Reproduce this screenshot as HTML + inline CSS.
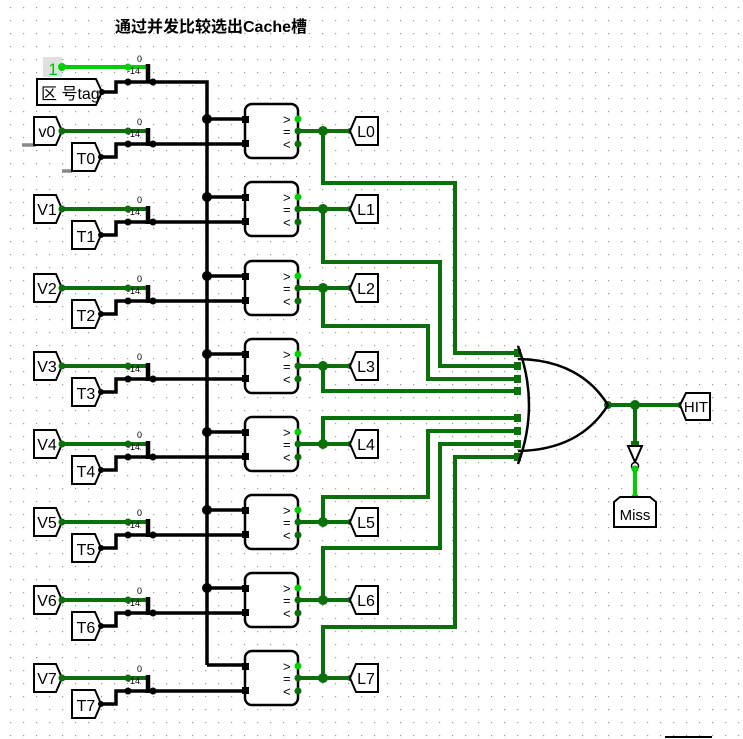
<!DOCTYPE html>
<html><head><meta charset="utf-8"><style>
html,body{margin:0;padding:0;background:#fff;}
svg{display:block;font-family:"Liberation Sans","Noto Sans CJK SC",sans-serif;}
</style></head><body>
<svg width="743" height="739" viewBox="0 0 743 739" xmlns="http://www.w3.org/2000/svg">
<defs>
<pattern id="g" x="10" y="7" width="13" height="13" patternUnits="userSpaceOnUse"><rect x="0" y="0" width="1.2" height="1.2" fill="#9a9a9a"/></pattern>
</defs>
<rect width="743" height="739" fill="url(#g)"/>
<text x="115" y="32" font-size="16" font-weight="bold" fill="#000">通过并发比较选出Cache槽</text>

<!-- top row -->
<rect x="43" y="57" width="19" height="20" fill="#e0e0e0"/>
<text x="53" y="75" font-size="17" fill="#00c000" text-anchor="middle">1</text>
<g stroke="#00d000" stroke-width="4" fill="none"><path d="M62,67 H147"/></g>
<circle cx="62" cy="67" r="4" fill="#00d000"/><circle cx="128" cy="67" r="3.5" fill="#00d000"/>
<path d="M37,79 H96 L102,92 L96,105 H37Z" fill="#fff" stroke="#000" stroke-width="2"/>
<text x="41" y="99" font-size="16">区 号tag</text>
<g stroke="#000" stroke-width="3.5" fill="none">
<path d="M102,92 H116 V82 H207 V665"/>
<path d="M148,64 V82" stroke-width="4.5"/>
</g>
<circle cx="128" cy="82" r="3.5"/><circle cx="153" cy="82" r="3.5"/><circle cx="102" cy="92" r="3"/>
<text x="137" y="62" font-size="9">0</text><text x="127" y="74" font-size="9">-14</text>

<!-- grey stubs -->
<path d="M22,145 H36 M62,171 H72" stroke="#888" stroke-width="3.5"/>

<!-- OR wires -->
<g stroke="#0a700a" stroke-width="4" fill="none">
<path d="M323,131 V183 H455 V353 H518"/>
<path d="M323,209 V262 H440 V366 H518"/>
<path d="M323,288 V326 H428 V379 H518"/>
<path d="M323,366 V391 H518"/>
<path d="M323,444 V418 H518"/>
<path d="M323,522 V497 H428 V431 H518"/>
<path d="M323,600 V548 H440 V444 H518"/>
<path d="M323,678 V627 H455 V457 H518"/>
<path d="M608,405 H680 M635,405 V445"/>
</g>
<g fill="#0a700a">
<rect x="514" y="349" width="7" height="8"/><rect x="514" y="362" width="7" height="8"/><rect x="514" y="375" width="7" height="8"/><rect x="514" y="387" width="7" height="8"/>
<rect x="514" y="414" width="7" height="8"/><rect x="514" y="427" width="7" height="8"/><rect x="514" y="440" width="7" height="8"/><rect x="514" y="453" width="7" height="8"/>
<circle cx="608" cy="405" r="4"/><circle cx="635" cy="405" r="5"/><circle cx="680" cy="405" r="3"/>
<rect x="631" y="441" width="8" height="7"/>
</g>
<path d="M518,346 Q540,405 518,464" stroke="#000" stroke-width="2.5" fill="none"/>
<path d="M518,359 Q580,360 608,405 Q580,450 518,451" stroke="#000" stroke-width="2.5" fill="none"/>
<path d="M628,446 H642 L635,462 Z" fill="#fff" stroke="#000" stroke-width="2"/>
<circle cx="635" cy="466" r="3.5" fill="#fff" stroke="#000" stroke-width="1.5"/>
<path d="M635,468 V497" stroke="#00d000" stroke-width="4"/>
<circle cx="635" cy="469" r="3.5" fill="#00d000"/><circle cx="635" cy="497" r="3.5" fill="#00d000"/>
<path d="M614,502 L620,497 H650 L656,502 V527 H614Z" fill="#fff" stroke="#000" stroke-width="2"/>
<text x="635" y="520" font-size="15" text-anchor="middle">Miss</text>
<path d="M680,405 L686,393 H710 V420 H686Z" fill="#fff" stroke="#000" stroke-width="2"/>
<text x="696" y="412" font-size="15" text-anchor="middle">HIT</text>
<path d="M665,737 H712" stroke="#000" stroke-width="2"/>

<g>
<!-- row 0 -->
<g transform="translate(0,131)">
<path d="M34,-14 H56 L62,0 L56,14 H34Z" fill="#fff" stroke="#000" stroke-width="2"/><text x="47" y="6" font-size="16" text-anchor="middle">v0</text>
<path d="M72,12 H95 L101,26 L95,40 H72Z" fill="#fff" stroke="#000" stroke-width="2"/><text x="86" y="33" font-size="16" text-anchor="middle">T0</text>
<path d="M62,0 H147" stroke="#0a700a" stroke-width="4"/><circle cx="62" cy="0" r="3.5" fill="#0a700a"/><circle cx="128" cy="0" r="3.5" fill="#0a700a"/>
<path d="M101,26 H116 V13 H245 M207,-12 H245" stroke="#000" stroke-width="3.5" fill="none"/><path d="M148,-3 V15" stroke="#000" stroke-width="4.5"/>
<circle cx="101" cy="26" r="3"/><circle cx="128" cy="13" r="3.5"/><circle cx="153" cy="13" r="3.5"/><circle cx="207" cy="-12" r="5"/>
<text x="137" y="-6" font-size="9">0</text><text x="127" y="6" font-size="9">-14</text>
<rect x="245" y="-27" width="53" height="54" rx="7" fill="#fff" stroke="#000" stroke-width="2.5"/>
<rect x="242" y="-15" width="7" height="7"/><rect x="242" y="9" width="7" height="7"/>
<text x="283" y="-7" font-size="13">&gt;</text><text x="283" y="5" font-size="13">=</text><text x="283" y="18" font-size="13">&lt;</text>
<path d="M298,0 H350" stroke="#0a700a" stroke-width="4"/>
<circle cx="298" cy="-12" r="3.5" fill="#00d000"/><circle cx="298" cy="0" r="3.5" fill="#0a700a"/><circle cx="298" cy="13" r="3.5" fill="#0a700a"/><circle cx="323" cy="0" r="5" fill="#0a700a"/><circle cx="350" cy="0" r="3" fill="#0a700a"/>
<path d="M350,0 L356,-14 H378 V14 H356Z" fill="#fff" stroke="#000" stroke-width="2"/><text x="366" y="6" font-size="16" text-anchor="middle">L0</text>
</g>
<!-- row 1 -->
<g transform="translate(0,209)">
<path d="M34,-14 H56 L62,0 L56,14 H34Z" fill="#fff" stroke="#000" stroke-width="2"/><text x="47" y="6" font-size="16" text-anchor="middle">V1</text>
<path d="M72,12 H95 L101,26 L95,40 H72Z" fill="#fff" stroke="#000" stroke-width="2"/><text x="86" y="33" font-size="16" text-anchor="middle">T1</text>
<path d="M62,0 H147" stroke="#0a700a" stroke-width="4"/><circle cx="62" cy="0" r="3.5" fill="#0a700a"/><circle cx="128" cy="0" r="3.5" fill="#0a700a"/>
<path d="M101,26 H116 V13 H245 M207,-12 H245" stroke="#000" stroke-width="3.5" fill="none"/><path d="M148,-3 V15" stroke="#000" stroke-width="4.5"/>
<circle cx="101" cy="26" r="3"/><circle cx="128" cy="13" r="3.5"/><circle cx="153" cy="13" r="3.5"/><circle cx="207" cy="-12" r="5"/>
<text x="137" y="-6" font-size="9">0</text><text x="127" y="6" font-size="9">-14</text>
<rect x="245" y="-27" width="53" height="54" rx="7" fill="#fff" stroke="#000" stroke-width="2.5"/>
<rect x="242" y="-15" width="7" height="7"/><rect x="242" y="9" width="7" height="7"/>
<text x="283" y="-7" font-size="13">&gt;</text><text x="283" y="5" font-size="13">=</text><text x="283" y="18" font-size="13">&lt;</text>
<path d="M298,0 H350" stroke="#0a700a" stroke-width="4"/>
<circle cx="298" cy="-12" r="3.5" fill="#00d000"/><circle cx="298" cy="0" r="3.5" fill="#0a700a"/><circle cx="298" cy="13" r="3.5" fill="#0a700a"/><circle cx="323" cy="0" r="5" fill="#0a700a"/><circle cx="350" cy="0" r="3" fill="#0a700a"/>
<path d="M350,0 L356,-14 H378 V14 H356Z" fill="#fff" stroke="#000" stroke-width="2"/><text x="366" y="6" font-size="16" text-anchor="middle">L1</text>
</g>
<!-- row 2 -->
<g transform="translate(0,288)">
<path d="M34,-14 H56 L62,0 L56,14 H34Z" fill="#fff" stroke="#000" stroke-width="2"/><text x="47" y="6" font-size="16" text-anchor="middle">V2</text>
<path d="M72,12 H95 L101,26 L95,40 H72Z" fill="#fff" stroke="#000" stroke-width="2"/><text x="86" y="33" font-size="16" text-anchor="middle">T2</text>
<path d="M62,0 H147" stroke="#0a700a" stroke-width="4"/><circle cx="62" cy="0" r="3.5" fill="#0a700a"/><circle cx="128" cy="0" r="3.5" fill="#0a700a"/>
<path d="M101,26 H116 V13 H245 M207,-12 H245" stroke="#000" stroke-width="3.5" fill="none"/><path d="M148,-3 V15" stroke="#000" stroke-width="4.5"/>
<circle cx="101" cy="26" r="3"/><circle cx="128" cy="13" r="3.5"/><circle cx="153" cy="13" r="3.5"/><circle cx="207" cy="-12" r="5"/>
<text x="137" y="-6" font-size="9">0</text><text x="127" y="6" font-size="9">-14</text>
<rect x="245" y="-27" width="53" height="54" rx="7" fill="#fff" stroke="#000" stroke-width="2.5"/>
<rect x="242" y="-15" width="7" height="7"/><rect x="242" y="9" width="7" height="7"/>
<text x="283" y="-7" font-size="13">&gt;</text><text x="283" y="5" font-size="13">=</text><text x="283" y="18" font-size="13">&lt;</text>
<path d="M298,0 H350" stroke="#0a700a" stroke-width="4"/>
<circle cx="298" cy="-12" r="3.5" fill="#00d000"/><circle cx="298" cy="0" r="3.5" fill="#0a700a"/><circle cx="298" cy="13" r="3.5" fill="#0a700a"/><circle cx="323" cy="0" r="5" fill="#0a700a"/><circle cx="350" cy="0" r="3" fill="#0a700a"/>
<path d="M350,0 L356,-14 H378 V14 H356Z" fill="#fff" stroke="#000" stroke-width="2"/><text x="366" y="6" font-size="16" text-anchor="middle">L2</text>
</g>
<!-- row 3 -->
<g transform="translate(0,366)">
<path d="M34,-14 H56 L62,0 L56,14 H34Z" fill="#fff" stroke="#000" stroke-width="2"/><text x="47" y="6" font-size="16" text-anchor="middle">V3</text>
<path d="M72,12 H95 L101,26 L95,40 H72Z" fill="#fff" stroke="#000" stroke-width="2"/><text x="86" y="33" font-size="16" text-anchor="middle">T3</text>
<path d="M62,0 H147" stroke="#0a700a" stroke-width="4"/><circle cx="62" cy="0" r="3.5" fill="#0a700a"/><circle cx="128" cy="0" r="3.5" fill="#0a700a"/>
<path d="M101,26 H116 V13 H245 M207,-12 H245" stroke="#000" stroke-width="3.5" fill="none"/><path d="M148,-3 V15" stroke="#000" stroke-width="4.5"/>
<circle cx="101" cy="26" r="3"/><circle cx="128" cy="13" r="3.5"/><circle cx="153" cy="13" r="3.5"/><circle cx="207" cy="-12" r="5"/>
<text x="137" y="-6" font-size="9">0</text><text x="127" y="6" font-size="9">-14</text>
<rect x="245" y="-27" width="53" height="54" rx="7" fill="#fff" stroke="#000" stroke-width="2.5"/>
<rect x="242" y="-15" width="7" height="7"/><rect x="242" y="9" width="7" height="7"/>
<text x="283" y="-7" font-size="13">&gt;</text><text x="283" y="5" font-size="13">=</text><text x="283" y="18" font-size="13">&lt;</text>
<path d="M298,0 H350" stroke="#0a700a" stroke-width="4"/>
<circle cx="298" cy="-12" r="3.5" fill="#00d000"/><circle cx="298" cy="0" r="3.5" fill="#0a700a"/><circle cx="298" cy="13" r="3.5" fill="#0a700a"/><circle cx="323" cy="0" r="5" fill="#0a700a"/><circle cx="350" cy="0" r="3" fill="#0a700a"/>
<path d="M350,0 L356,-14 H378 V14 H356Z" fill="#fff" stroke="#000" stroke-width="2"/><text x="366" y="6" font-size="16" text-anchor="middle">L3</text>
</g>
<!-- row 4 -->
<g transform="translate(0,444)">
<path d="M34,-14 H56 L62,0 L56,14 H34Z" fill="#fff" stroke="#000" stroke-width="2"/><text x="47" y="6" font-size="16" text-anchor="middle">V4</text>
<path d="M72,12 H95 L101,26 L95,40 H72Z" fill="#fff" stroke="#000" stroke-width="2"/><text x="86" y="33" font-size="16" text-anchor="middle">T4</text>
<path d="M62,0 H147" stroke="#0a700a" stroke-width="4"/><circle cx="62" cy="0" r="3.5" fill="#0a700a"/><circle cx="128" cy="0" r="3.5" fill="#0a700a"/>
<path d="M101,26 H116 V13 H245 M207,-12 H245" stroke="#000" stroke-width="3.5" fill="none"/><path d="M148,-3 V15" stroke="#000" stroke-width="4.5"/>
<circle cx="101" cy="26" r="3"/><circle cx="128" cy="13" r="3.5"/><circle cx="153" cy="13" r="3.5"/><circle cx="207" cy="-12" r="5"/>
<text x="137" y="-6" font-size="9">0</text><text x="127" y="6" font-size="9">-14</text>
<rect x="245" y="-27" width="53" height="54" rx="7" fill="#fff" stroke="#000" stroke-width="2.5"/>
<rect x="242" y="-15" width="7" height="7"/><rect x="242" y="9" width="7" height="7"/>
<text x="283" y="-7" font-size="13">&gt;</text><text x="283" y="5" font-size="13">=</text><text x="283" y="18" font-size="13">&lt;</text>
<path d="M298,0 H350" stroke="#0a700a" stroke-width="4"/>
<circle cx="298" cy="-12" r="3.5" fill="#00d000"/><circle cx="298" cy="0" r="3.5" fill="#0a700a"/><circle cx="298" cy="13" r="3.5" fill="#0a700a"/><circle cx="323" cy="0" r="5" fill="#0a700a"/><circle cx="350" cy="0" r="3" fill="#0a700a"/>
<path d="M350,0 L356,-14 H378 V14 H356Z" fill="#fff" stroke="#000" stroke-width="2"/><text x="366" y="6" font-size="16" text-anchor="middle">L4</text>
</g>
<!-- row 5 -->
<g transform="translate(0,522)">
<path d="M34,-14 H56 L62,0 L56,14 H34Z" fill="#fff" stroke="#000" stroke-width="2"/><text x="47" y="6" font-size="16" text-anchor="middle">V5</text>
<path d="M72,12 H95 L101,26 L95,40 H72Z" fill="#fff" stroke="#000" stroke-width="2"/><text x="86" y="33" font-size="16" text-anchor="middle">T5</text>
<path d="M62,0 H147" stroke="#0a700a" stroke-width="4"/><circle cx="62" cy="0" r="3.5" fill="#0a700a"/><circle cx="128" cy="0" r="3.5" fill="#0a700a"/>
<path d="M101,26 H116 V13 H245 M207,-12 H245" stroke="#000" stroke-width="3.5" fill="none"/><path d="M148,-3 V15" stroke="#000" stroke-width="4.5"/>
<circle cx="101" cy="26" r="3"/><circle cx="128" cy="13" r="3.5"/><circle cx="153" cy="13" r="3.5"/><circle cx="207" cy="-12" r="5"/>
<text x="137" y="-6" font-size="9">0</text><text x="127" y="6" font-size="9">-14</text>
<rect x="245" y="-27" width="53" height="54" rx="7" fill="#fff" stroke="#000" stroke-width="2.5"/>
<rect x="242" y="-15" width="7" height="7"/><rect x="242" y="9" width="7" height="7"/>
<text x="283" y="-7" font-size="13">&gt;</text><text x="283" y="5" font-size="13">=</text><text x="283" y="18" font-size="13">&lt;</text>
<path d="M298,0 H350" stroke="#0a700a" stroke-width="4"/>
<circle cx="298" cy="-12" r="3.5" fill="#00d000"/><circle cx="298" cy="0" r="3.5" fill="#0a700a"/><circle cx="298" cy="13" r="3.5" fill="#0a700a"/><circle cx="323" cy="0" r="5" fill="#0a700a"/><circle cx="350" cy="0" r="3" fill="#0a700a"/>
<path d="M350,0 L356,-14 H378 V14 H356Z" fill="#fff" stroke="#000" stroke-width="2"/><text x="366" y="6" font-size="16" text-anchor="middle">L5</text>
</g>
<!-- row 6 -->
<g transform="translate(0,600)">
<path d="M34,-14 H56 L62,0 L56,14 H34Z" fill="#fff" stroke="#000" stroke-width="2"/><text x="47" y="6" font-size="16" text-anchor="middle">V6</text>
<path d="M72,12 H95 L101,26 L95,40 H72Z" fill="#fff" stroke="#000" stroke-width="2"/><text x="86" y="33" font-size="16" text-anchor="middle">T6</text>
<path d="M62,0 H147" stroke="#0a700a" stroke-width="4"/><circle cx="62" cy="0" r="3.5" fill="#0a700a"/><circle cx="128" cy="0" r="3.5" fill="#0a700a"/>
<path d="M101,26 H116 V13 H245 M207,-12 H245" stroke="#000" stroke-width="3.5" fill="none"/><path d="M148,-3 V15" stroke="#000" stroke-width="4.5"/>
<circle cx="101" cy="26" r="3"/><circle cx="128" cy="13" r="3.5"/><circle cx="153" cy="13" r="3.5"/><circle cx="207" cy="-12" r="5"/>
<text x="137" y="-6" font-size="9">0</text><text x="127" y="6" font-size="9">-14</text>
<rect x="245" y="-27" width="53" height="54" rx="7" fill="#fff" stroke="#000" stroke-width="2.5"/>
<rect x="242" y="-15" width="7" height="7"/><rect x="242" y="9" width="7" height="7"/>
<text x="283" y="-7" font-size="13">&gt;</text><text x="283" y="5" font-size="13">=</text><text x="283" y="18" font-size="13">&lt;</text>
<path d="M298,0 H350" stroke="#0a700a" stroke-width="4"/>
<circle cx="298" cy="-12" r="3.5" fill="#00d000"/><circle cx="298" cy="0" r="3.5" fill="#0a700a"/><circle cx="298" cy="13" r="3.5" fill="#0a700a"/><circle cx="323" cy="0" r="5" fill="#0a700a"/><circle cx="350" cy="0" r="3" fill="#0a700a"/>
<path d="M350,0 L356,-14 H378 V14 H356Z" fill="#fff" stroke="#000" stroke-width="2"/><text x="366" y="6" font-size="16" text-anchor="middle">L6</text>
</g>
<!-- row 7 -->
<g transform="translate(0,678)">
<path d="M34,-14 H56 L62,0 L56,14 H34Z" fill="#fff" stroke="#000" stroke-width="2"/><text x="47" y="6" font-size="16" text-anchor="middle">V7</text>
<path d="M72,12 H95 L101,26 L95,40 H72Z" fill="#fff" stroke="#000" stroke-width="2"/><text x="86" y="33" font-size="16" text-anchor="middle">T7</text>
<path d="M62,0 H147" stroke="#0a700a" stroke-width="4"/><circle cx="62" cy="0" r="3.5" fill="#0a700a"/><circle cx="128" cy="0" r="3.5" fill="#0a700a"/>
<path d="M101,26 H116 V13 H245 M207,-13 H245" stroke="#000" stroke-width="3.5" fill="none"/><path d="M148,-3 V15" stroke="#000" stroke-width="4.5"/>
<circle cx="101" cy="26" r="3"/><circle cx="128" cy="13" r="3.5"/><circle cx="153" cy="13" r="3.5"/>
<text x="137" y="-6" font-size="9">0</text><text x="127" y="6" font-size="9">-14</text>
<rect x="245" y="-27" width="53" height="54" rx="7" fill="#fff" stroke="#000" stroke-width="2.5"/>
<rect x="242" y="-15" width="7" height="7"/><rect x="242" y="9" width="7" height="7"/>
<text x="283" y="-7" font-size="13">&gt;</text><text x="283" y="5" font-size="13">=</text><text x="283" y="18" font-size="13">&lt;</text>
<path d="M298,0 H350" stroke="#0a700a" stroke-width="4"/>
<circle cx="298" cy="-12" r="3.5" fill="#00d000"/><circle cx="298" cy="0" r="3.5" fill="#0a700a"/><circle cx="298" cy="13" r="3.5" fill="#0a700a"/><circle cx="323" cy="0" r="5" fill="#0a700a"/><circle cx="350" cy="0" r="3" fill="#0a700a"/>
<path d="M350,0 L356,-14 H378 V14 H356Z" fill="#fff" stroke="#000" stroke-width="2"/><text x="366" y="6" font-size="16" text-anchor="middle">L7</text>
</g>
</g>
</svg>
</body></html>
